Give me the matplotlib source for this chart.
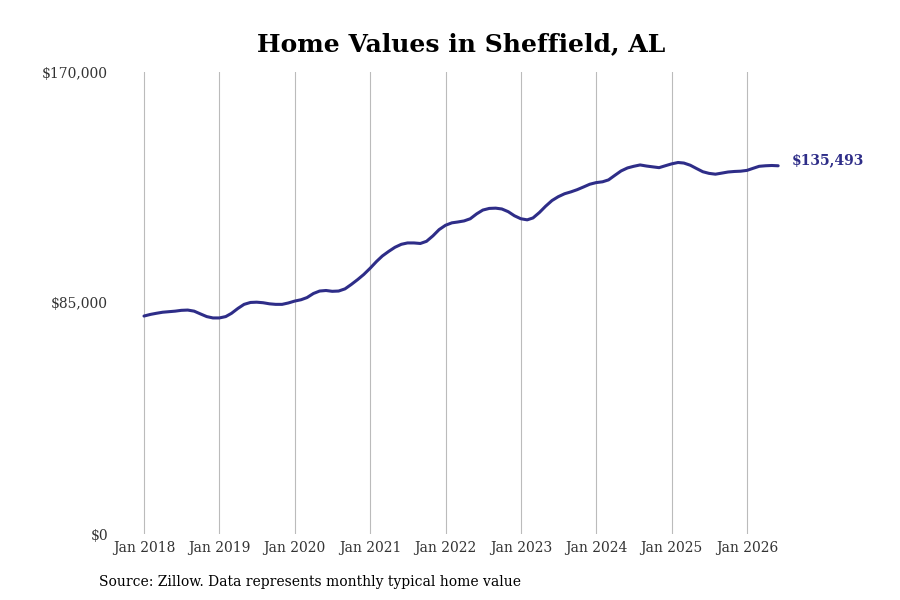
import matplotlib
matplotlib.use("Agg")
import matplotlib.pyplot as plt
import matplotlib.dates as mdates
from matplotlib.ticker import FuncFormatter
import pandas as pd

# Typical monthly home value, Jan 2018 - Jun 2026
months = pd.date_range("2018-01-01", periods=102, freq="MS")
values = [
    80200, 80800, 81200, 81600, 81800, 82000, 82300, 82400, 82000, 81000, 80000, 79500,
    79500, 80000, 81200, 83000, 84500, 85200, 85300, 85100, 84700, 84500, 84500, 85000,
    85700, 86200, 87000, 88500, 89400, 89600, 89300, 89400, 90200, 91800, 93600, 95500,
    97800, 100300, 102300, 104000, 105500, 106600, 107100, 107100, 106900, 107700, 109700, 112000,
    113600, 114500, 114800, 115200, 116000, 117800, 119200, 119800, 119900, 119600, 118600, 117100,
    116000, 115600, 116300, 118300, 120600, 122700, 124100, 125200, 125900, 126700, 127700, 128700,
    129300, 129600, 130300, 132000, 133600, 134700, 135300, 135800, 135400, 135100, 134800, 135500,
    136200, 136700, 136500, 135700, 134500, 133300, 132700, 132400, 132800, 133200, 133400, 133500,
    133800, 134600, 135300, 135500, 135600, 135493,
]
y_ticks = [0, 85000, 170000]
x_ticks = pd.date_range("2018-01-01", "2026-01-01", freq="YS")

line_color = "#2e2d88"

fig = plt.figure(figsize=(9, 6), dpi=100)
ax = fig.add_axes([115 / 900, 66 / 600, 755 / 900, 462 / 600])

ax.plot(months, values, color=line_color, linewidth=2.2, solid_capstyle="round")

# x-limits so that Jan 2018 sits at px 144 and Jan 2026 at px 747
t0 = mdates.date2num(pd.Timestamp("2018-01-01"))
t1 = mdates.date2num(pd.Timestamp("2026-01-01"))
per_px = (t1 - t0) / (747 - 144)
ax.set_xlim(t0 - (144 - 115) * per_px, t1 + (870 - 747) * per_px)
ax.set_ylim(0, 170000)

ax.set_xticks(x_ticks)
ax.xaxis.set_major_formatter(mdates.DateFormatter("%b %Y"))
ax.set_yticks(y_ticks)
ax.yaxis.set_major_formatter(FuncFormatter(lambda v, p: "${:,.0f}".format(v)))

for side in ["top", "right", "left", "bottom"]:
    ax.spines[side].set_visible(False)
ax.grid(axis="x", color="#bbbbbb", linewidth=0.8)
ax.set_axisbelow(True)
ax.tick_params(axis="both", length=0, labelsize=10, labelcolor="#333333")
ax.tick_params(axis="x", pad=5)
ax.tick_params(axis="y", pad=5)
for lbl in ax.get_xticklabels() + ax.get_yticklabels():
    lbl.set_fontfamily("DejaVu Serif")
for lbl in ax.get_yticklabels():
    lbl.set_verticalalignment("center_baseline")

ax.annotate("${:,.0f}".format(values[-1]), xy=(months[-1], values[-1]),
            xytext=(10, 4), textcoords="offset points", ha="left", va="center",
            fontsize=10, fontweight="bold", color=line_color, family="DejaVu Serif")

fig.text(461 / 900, 1 - 44 / 600, "Home Values in Sheffield, AL", ha="center", va="center",
         fontsize=18, fontweight="bold", family="DejaVu Serif")
fig.text(99 / 900, 1 - 582 / 600, "Source: Zillow. Data represents monthly typical home value",
         ha="left", va="center", fontsize=10, family="DejaVu Serif")

fig.savefig("out.png", dpi=100)
